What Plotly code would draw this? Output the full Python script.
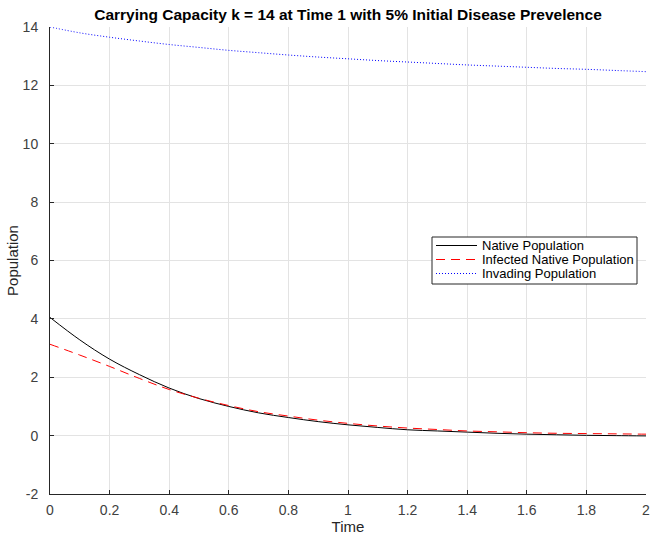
import plotly.graph_objects as go

time = [0.0, 0.1, 0.2, 0.3, 0.4, 0.5, 0.6, 0.7, 0.8, 0.9, 1.0,
        1.1, 1.2, 1.3, 1.4, 1.5, 1.6, 1.7, 1.8, 1.9, 2.0]
native = [4.05, 3.28, 2.62, 2.09, 1.63, 1.27, 1.00, 0.78, 0.62, 0.48, 0.37,
          0.28, 0.20, 0.16, 0.12, 0.08, 0.05, 0.03, 0.01, 0.00, -0.01]
infected = [3.13, 2.76, 2.37, 1.96, 1.58, 1.28, 1.03, 0.82, 0.67, 0.53, 0.42,
            0.33, 0.26, 0.21, 0.16, 0.13, 0.10, 0.08, 0.07, 0.06, 0.05]
invading = [14.0, 13.80, 13.65, 13.52, 13.40, 13.30, 13.20, 13.12, 13.04, 12.97, 12.91,
            12.85, 12.80, 12.75, 12.70, 12.66, 12.62, 12.58, 12.55, 12.51, 12.47]

series_names = ["Native Population", "Infected Native Population", "Invading Population"]

x_ticks = [0, 0.2, 0.4, 0.6, 0.8, 1, 1.2, 1.4, 1.6, 1.8, 2]
x_tick_labels = ["0", "0.2", "0.4", "0.6", "0.8", "1", "1.2", "1.4", "1.6", "1.8", "2"]
y_ticks = [-2, 0, 2, 4, 6, 8, 10, 12, 14]
y_tick_labels = ["-2", "0", "2", "4", "6", "8", "10", "12", "14"]

font = "Liberation Sans, Arial, sans-serif"
styles = [
    dict(color="black", width=1, shape="spline"),
    dict(color="red", width=1, dash="9px,6px", shape="spline"),
    dict(color="blue", width=1, dash="1px,2px", shape="spline"),
]

fig = go.Figure()
for name, ys, st in zip(series_names, [native, infected, invading], styles):
    fig.add_trace(go.Scatter(x=time, y=ys, mode="lines", name=name, line=st, showlegend=False))

# manual legend (box geometry in pixels -> paper coords)
L, R, T, B = 50, 646, 27, 494
def px(x):
    return (x - L) / (R - L)
def py(y):
    return (B - y) / (B - T)

fig.add_shape(type="rect", xref="paper", yref="paper",
              x0=px(432), x1=px(637), y0=py(284), y1=py(237),
              line=dict(color="#262626", width=1), fillcolor="white", layer="above")
for i, (name, st) in enumerate(zip(series_names, styles)):
    yc = 245.5 + 14 * i
    dash = st.get("dash", "solid")
    fig.add_shape(type="line", xref="paper", yref="paper",
                  x0=px(436), x1=px(477), y0=py(yc), y1=py(yc),
                  line=dict(color=st["color"], width=1, dash=dash), layer="above")
    fig.add_annotation(xref="paper", yref="paper", x=px(480), y=py(yc),
                       xanchor="left", yanchor="middle", showarrow=False,
                       text=name, font=dict(family=font, size=13, color="black"))

axis_common = dict(
    showgrid=True, gridcolor="#e3e3e3", gridwidth=1,
    showline=True, linecolor="#262626", linewidth=1,
    ticks="inside", ticklen=4, tickcolor="#262626",
    tickfont=dict(family=font, size=14, color="#404040"),
    zeroline=False, mirror=False, automargin=False,
)

fig.update_layout(
    width=653, height=538,
    margin=dict(l=50, r=7, t=27, b=44, autoexpand=False),
    paper_bgcolor="white", plot_bgcolor="white",
    title=dict(text="<b>Carrying Capacity k = 14 at Time 1 with 5% Initial Disease Prevelence</b>",
               x=(50 + 646) / 2 / 653, xanchor="center", y=1 - 15 / 538, yanchor="middle",
               font=dict(family=font, size=15.5, color="black")),
    xaxis=dict(range=[0, 2], tickvals=x_ticks, ticktext=x_tick_labels, ticklabelstandoff=3,
               title=dict(text="Time", font=dict(family=font, size=15, color="#262626"), standoff=0),
               **axis_common),
    yaxis=dict(range=[-2, 14], tickvals=y_ticks, ticktext=y_tick_labels, ticklabelstandoff=8,
               title=dict(text="Population", font=dict(family=font, size=15, color="#262626"), standoff=0),
               **axis_common),
    showlegend=False,
)

fig.write_html("out.html")
